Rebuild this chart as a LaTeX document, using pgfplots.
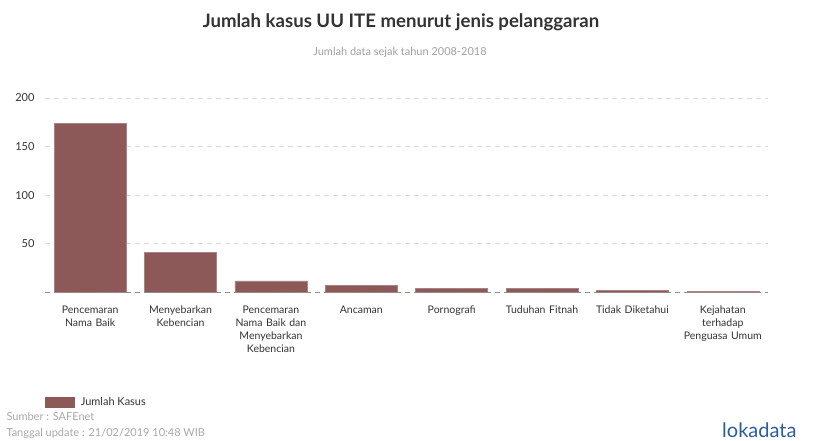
\documentclass[border=0pt]{standalone}
\usepackage{fontspec}
\setmainfont{Lato}
\usepackage{pgfplots}
\pgfplotsset{compat=1.18}
\definecolor{barcol}{HTML}{8C5858}
\definecolor{txt}{HTML}{333333}
\definecolor{subtxt}{HTML}{A0A0A0}
\definecolor{srctxt}{HTML}{A8A8A8}
\definecolor{gridc}{HTML}{D9D9D9}
\definecolor{basec}{HTML}{8C8C8C}
\definecolor{logoblue}{HTML}{2B5C9E}
\begin{document}
\begin{tikzpicture}
\useasboundingbox (0,0) rectangle (814pt,441pt);
\node[font=\fontsize{18.6}{22}\selectfont\bfseries, text=txt] at (401pt,419pt) {Jumlah kasus UU ITE menurut jenis pelanggaran};
\node[font=\fontsize{11}{13}\selectfont, text=subtxt] at (400pt,389pt) {Jumlah data sejak tahun 2008-2018};
\begin{axis}[
  at={(45pt,148.5pt)}, anchor=south west,
  scale only axis, width=723pt, height=194.5pt,
  xmin=-0.5, xmax=7.5, ymin=0, ymax=200,
  ybar, bar width=72pt,
  axis line style={draw=none},
  tick style={draw=none}, major tick length=0pt,
  ytick={50,100,150,200},
  ymajorgrids,
  grid style={gridc, dash pattern=on 5pt off 4pt, line width=0.8pt},
  /pgf/number format/assume math mode=true,
  yticklabel style={font=\fontsize{11}{13}\selectfont, text=txt, xshift=-7pt},
  xtick={0,1,2,3,4,5,6,7},
  xticklabels={{Pencemaran\\Nama Baik},{Menyebarkan\\Kebencian},{Pencemaran\\Nama Baik dan\\Menyebarkan\\Kebencian},{Ancaman},{Pornografi},{Tuduhan Fitnah},{Tidak Diketahui},{Kejahatan\\terhadap\\Penguasa Umum}},
  xticklabel style={align=center, text width=95pt, font=\fontsize{10.5}{13}\selectfont, text=txt, yshift=-10pt},
  legend style={at={(axis description cs:0,-0.563)}, anchor=west, draw=none, fill=none, inner sep=0pt, font=\fontsize{11}{13}\selectfont, text=txt},
  legend image code/.code={\fill[barcol] (0pt,-5pt) rectangle (29pt,5pt);},
  legend cell align=left,
]
\addplot[fill=barcol, draw=barcol!75!white, line width=0.6pt] coordinates {(0,174) (1,41) (2,12) (3,7) (4,4) (5,4) (6,2) (7,1)};
\addlegendentry{\hspace{4pt}Jumlah Kasus}
\draw[basec, dash pattern=on 5pt off 4pt, line width=0.8pt] (axis cs:-0.5,0) -- (axis cs:7.5,0);
\end{axis}
\node[anchor=west, font=\fontsize{11}{13}\selectfont, text=srctxt] at (3pt,25pt) {Sumber : SAFEnet};
\node[anchor=west, font=\fontsize{11}{13}\selectfont, text=srctxt] at (3pt,8pt) {Tanggal update : 21/02/2019 10:48 WIB};
\node[anchor=west, font=\fontsize{20}{22}\selectfont, text=logoblue, inner sep=0pt] at (722pt,11pt) {lokadata};
\end{tikzpicture}
\end{document}
